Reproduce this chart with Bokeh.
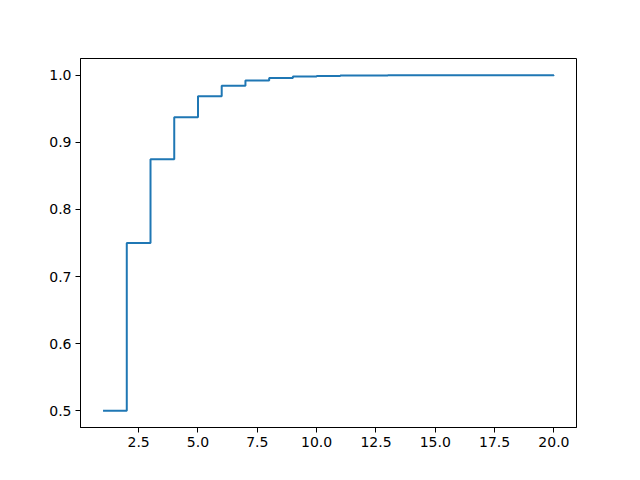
from bokeh.plotting import figure
from bokeh.models import FixedTicker, Range1d
from bokeh.embed import file_html
from bokeh.resources import INLINE

k = list(range(1, 21))
cdf = [0.5, 0.75, 0.875, 0.9375, 0.96875, 0.984375, 0.9921875, 0.99609375,
       0.998046875, 0.9990234375, 0.99951171875, 0.999755859375,
       0.9998779296875, 0.99993896484375, 0.999969482421875,
       0.9999847412109375, 0.9999923706054688, 0.9999961853027344,
       0.9999980926513672, 0.9999990463256836]
x_ticks = [2.5, 5.0, 7.5, 10.0, 12.5, 15.0, 17.5, 20.0]
y_ticks = [0.5, 0.6, 0.7, 0.8, 0.9, 1.0]

p = figure(width=640, height=480, output_backend="svg", toolbar_location=None,
           x_range=Range1d(0.05, 20.95), y_range=Range1d(0.475, 1.025),
           min_border_left=80, min_border_right=64, min_border_top=58,
           min_border_bottom=53)
p.step(k, cdf, mode="after", line_color="#1f77b4", line_width=2)

p.xgrid.visible = False
p.ygrid.visible = False
p.outline_line_color = "black"
p.outline_line_width = 1
p.background_fill_color = "white"
p.border_fill_color = "white"

p.xaxis.ticker = FixedTicker(ticks=x_ticks)
p.yaxis.ticker = FixedTicker(ticks=y_ticks)
p.xaxis.major_label_overrides = {t: f"{t:.1f}" for t in x_ticks}
p.yaxis.major_label_overrides = {t: f"{t:.1f}" for t in y_ticks}
for ax in (p.xaxis, p.yaxis):
    ax.minor_tick_line_color = None
    ax.major_tick_out = 5
    ax.major_tick_in = 0
    ax.axis_line_color = "black"
    ax.major_tick_line_color = "black"
    ax.major_label_text_font = "DejaVu Sans"
    ax.major_label_text_font_size = "14px"
    ax.major_label_text_color = "black"
    ax.major_label_standoff = 4

open("out.html", "w").write(file_html(p, INLINE))
